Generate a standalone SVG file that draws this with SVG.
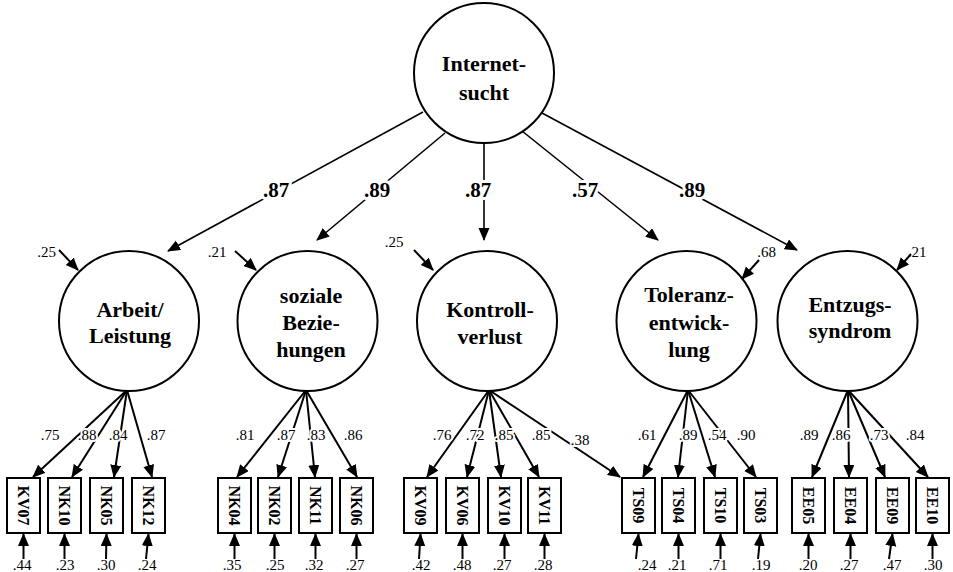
<svg xmlns="http://www.w3.org/2000/svg" width="953" height="572" viewBox="0 0 953 572" font-family="'Liberation Serif', 'Times New Roman', 'DejaVu Serif', serif">
<defs>
<marker id="ah" markerUnits="userSpaceOnUse" markerWidth="14" markerHeight="12" refX="12" refY="5.5" orient="auto"><path d="M0,0 L13,5.5 L0,11 z" fill="#000"/></marker>
<style>
.c{stroke:#000;stroke-width:1.6;fill:none;marker-end:url(#ah)}
.cb{stroke:#000;stroke-width:2;fill:none;marker-end:url(#ah)}
.lat{fill:#fff;stroke:#000;stroke-width:2}
.box{fill:#fff;stroke:#000;stroke-width:2}
text{font-family:'Liberation Serif','Times New Roman','DejaVu Serif',serif;fill:#000}
.lt{font-size:22px;font-weight:bold;text-anchor:middle}
.bt{font-size:16px;font-weight:bold;text-anchor:middle;dominant-baseline:central}
.big{font-size:21px;font-weight:bold;text-anchor:middle;stroke:#fff;stroke-width:6;paint-order:stroke}
.sm{font-size:15px;text-anchor:middle;stroke:#fff;stroke-width:4;paint-order:stroke}
.er{font-size:15px;text-anchor:middle}
</style>
</defs>
<rect width="953" height="572" fill="#fff"/>
<g id="connectors">
<line class="c" x1="423" y1="112" x2="168" y2="251"/>
<line class="c" x1="445" y1="133" x2="317" y2="240"/>
<line class="c" x1="484" y1="143" x2="484" y2="240"/>
<line class="c" x1="522" y1="131" x2="658" y2="240"/>
<line class="c" x1="542" y1="113" x2="797" y2="250"/>
<line class="cb" x1="59" y1="250" x2="78" y2="270"/>
<line class="cb" x1="235" y1="251" x2="256" y2="270"/>
<line class="cb" x1="414" y1="250" x2="433" y2="270"/>
<line class="cb" x1="759" y1="260" x2="742" y2="279"/>
<line class="cb" x1="911" y1="254" x2="897" y2="270"/>
<line class="cb" x1="127" y1="390" x2="33" y2="477"/>
<line class="cb" x1="127" y1="390" x2="72" y2="477"/>
<line class="cb" x1="127" y1="390" x2="114" y2="477"/>
<line class="cb" x1="127" y1="390" x2="152" y2="477"/>
<line class="cb" x1="306" y1="390" x2="237" y2="477"/>
<line class="cb" x1="306" y1="390" x2="278" y2="477"/>
<line class="cb" x1="306" y1="390" x2="315" y2="477"/>
<line class="cb" x1="306" y1="390" x2="357" y2="477"/>
<line class="cb" x1="489" y1="390" x2="427" y2="477"/>
<line class="cb" x1="489" y1="390" x2="467" y2="477"/>
<line class="cb" x1="489" y1="390" x2="501" y2="477"/>
<line class="cb" x1="489" y1="390" x2="539" y2="477"/>
<line class="cb" x1="489" y1="390" x2="620" y2="477"/>
<line class="cb" x1="688" y1="390" x2="643" y2="477"/>
<line class="cb" x1="688" y1="390" x2="678" y2="477"/>
<line class="cb" x1="688" y1="390" x2="715" y2="477"/>
<line class="cb" x1="688" y1="390" x2="756" y2="477"/>
<line class="cb" x1="848" y1="390" x2="812" y2="477"/>
<line class="cb" x1="848" y1="390" x2="849" y2="477"/>
<line class="cb" x1="848" y1="390" x2="885" y2="477"/>
<line class="cb" x1="848" y1="390" x2="928" y2="477"/>
<line class="cb" x1="23.5" y1="559" x2="23.5" y2="534"/>
<line class="cb" x1="64.5" y1="559" x2="64.5" y2="534"/>
<line class="cb" x1="106" y1="559" x2="106.5" y2="534"/>
<line class="cb" x1="146" y1="559" x2="148.5" y2="534"/>
<line class="cb" x1="234.5" y1="559" x2="234.5" y2="534"/>
<line class="cb" x1="274.5" y1="559" x2="274.5" y2="534"/>
<line class="cb" x1="315.5" y1="559" x2="315.5" y2="534"/>
<line class="cb" x1="356.5" y1="559" x2="356.5" y2="534"/>
<line class="cb" x1="419" y1="559" x2="420.5" y2="534"/>
<line class="cb" x1="462.5" y1="559" x2="462.5" y2="534"/>
<line class="cb" x1="504.5" y1="559" x2="504.5" y2="534"/>
<line class="cb" x1="544.5" y1="559" x2="544.5" y2="534"/>
<line class="cb" x1="636" y1="559" x2="638.5" y2="534"/>
<line class="cb" x1="678.5" y1="559" x2="678.5" y2="534"/>
<line class="cb" x1="720.5" y1="559" x2="720.5" y2="534"/>
<line class="cb" x1="758" y1="559" x2="760.5" y2="534"/>
<line class="cb" x1="808.5" y1="559" x2="808.5" y2="534"/>
<line class="cb" x1="850.5" y1="559" x2="850.5" y2="534"/>
<line class="cb" x1="889" y1="559" x2="892.5" y2="534"/>
<line class="cb" x1="932.5" y1="559" x2="932.5" y2="534"/>
<text class="big" x="276" y="197">.87</text>
<text class="big" x="377" y="197">.89</text>
<text class="big" x="478" y="197">.87</text>
<text class="big" x="585" y="197">.57</text>
<text class="big" x="692" y="197">.89</text>
<text class="sm" x="46.5" y="257">.25</text>
<text class="sm" x="217" y="257">.21</text>
<text class="sm" x="394" y="247">.25</text>
<text class="sm" x="766.5" y="257">.68</text>
<text class="sm" x="917" y="257" style="stroke:none">.21</text>
<text class="sm" x="50" y="440">.75</text>
<text class="sm" x="87" y="440">.88</text>
<text class="sm" x="118" y="440">.84</text>
<text class="sm" x="156" y="440">.87</text>
<text class="sm" x="245" y="440">.81</text>
<text class="sm" x="286" y="440">.87</text>
<text class="sm" x="316" y="440">.83</text>
<text class="sm" x="353" y="440">.86</text>
<text class="sm" x="442" y="440">.76</text>
<text class="sm" x="475" y="440">.72</text>
<text class="sm" x="504" y="440">.85</text>
<text class="sm" x="541" y="440">.85</text>
<text class="sm" x="580" y="445">.38</text>
<text class="sm" x="647" y="440">.61</text>
<text class="sm" x="688" y="440">.89</text>
<text class="sm" x="717" y="440">.54</text>
<text class="sm" x="746" y="440">.90</text>
<text class="sm" x="809" y="440">.89</text>
<text class="sm" x="841" y="440">.86</text>
<text class="sm" x="879" y="440">.73</text>
<text class="sm" x="915" y="440">.84</text>
<text class="er" x="22" y="570">.44</text>
<text class="er" x="65" y="570">.23</text>
<text class="er" x="106" y="570">.30</text>
<text class="er" x="147" y="570">.24</text>
<text class="er" x="232" y="570">.35</text>
<text class="er" x="275" y="570">.25</text>
<text class="er" x="314" y="570">.32</text>
<text class="er" x="355" y="570">.27</text>
<text class="er" x="421" y="570">.42</text>
<text class="er" x="462" y="570">.48</text>
<text class="er" x="502" y="570">.27</text>
<text class="er" x="543" y="570">.28</text>
<text class="er" x="647" y="570">.24</text>
<text class="er" x="677" y="570">.21</text>
<text class="er" x="718" y="570">.71</text>
<text class="er" x="761" y="570">.19</text>
<text class="er" x="808" y="570">.20</text>
<text class="er" x="849" y="570">.27</text>
<text class="er" x="892" y="570">.47</text>
<text class="er" x="933" y="570">.30</text>
</g>
<g id="internetsucht"><circle class="lat" cx="484" cy="73" r="70"/><text class="lt" x="484" y="71">Internet-</text><text class="lt" x="484" y="100">sucht</text></g>
<g id="arbeit"><circle class="lat" cx="129" cy="321" r="70"/><text class="lt" x="130" y="317">Arbeit/</text><text class="lt" x="130" y="343">Leistung</text></g>
<g id="soziale"><circle class="lat" cx="307.5" cy="321" r="70"/><text class="lt" x="311" y="303">soziale</text><text class="lt" x="311" y="330">Bezie-</text><text class="lt" x="311" y="357">hungen</text></g>
<g id="kontroll"><circle class="lat" cx="487" cy="321" r="70"/><text class="lt" x="490" y="317">Kontroll-</text><text class="lt" x="490" y="344">verlust</text></g>
<g id="toleranz"><circle class="lat" cx="686.5" cy="321" r="70"/><text class="lt" x="689" y="302">Toleranz-</text><text class="lt" x="689" y="330">entwick-</text><text class="lt" x="689" y="357">lung</text></g>
<g id="entzugs"><circle class="lat" cx="847.5" cy="321" r="70"/><text class="lt" x="850" y="312">Entzugs-</text><text class="lt" x="850" y="338">syndrom</text></g>
<g id="KV07"><rect class="box" x="7" y="478" width="33" height="55"/><text class="bt" transform="translate(23.5,505.5) rotate(90)">KV07</text></g>
<g id="NK10"><rect class="box" x="48" y="478" width="33" height="55"/><text class="bt" transform="translate(64.5,505.5) rotate(90)">NK10</text></g>
<g id="NK05"><rect class="box" x="90" y="478" width="33" height="55"/><text class="bt" transform="translate(106.5,505.5) rotate(90)">NK05</text></g>
<g id="NK12"><rect class="box" x="132" y="478" width="33" height="55"/><text class="bt" transform="translate(148.5,505.5) rotate(90)">NK12</text></g>
<g id="NK04"><rect class="box" x="218" y="478" width="33" height="55"/><text class="bt" transform="translate(234.5,505.5) rotate(90)">NK04</text></g>
<g id="NK02"><rect class="box" x="258" y="478" width="33" height="55"/><text class="bt" transform="translate(274.5,505.5) rotate(90)">NK02</text></g>
<g id="NK11"><rect class="box" x="299" y="478" width="33" height="55"/><text class="bt" transform="translate(315.5,505.5) rotate(90)">NK11</text></g>
<g id="NK06"><rect class="box" x="340" y="478" width="33" height="55"/><text class="bt" transform="translate(356.5,505.5) rotate(90)">NK06</text></g>
<g id="KV09"><rect class="box" x="404" y="478" width="33" height="55"/><text class="bt" transform="translate(420.5,505.5) rotate(90)">KV09</text></g>
<g id="KV06"><rect class="box" x="446" y="478" width="33" height="55"/><text class="bt" transform="translate(462.5,505.5) rotate(90)">KV06</text></g>
<g id="KV10"><rect class="box" x="488" y="478" width="33" height="55"/><text class="bt" transform="translate(504.5,505.5) rotate(90)">KV10</text></g>
<g id="KV11"><rect class="box" x="528" y="478" width="33" height="55"/><text class="bt" transform="translate(544.5,505.5) rotate(90)">KV11</text></g>
<g id="TS09"><rect class="box" x="622" y="478" width="33" height="55"/><text class="bt" transform="translate(638.5,505.5) rotate(90)">TS09</text></g>
<g id="TS04"><rect class="box" x="662" y="478" width="33" height="55"/><text class="bt" transform="translate(678.5,505.5) rotate(90)">TS04</text></g>
<g id="TS10"><rect class="box" x="704" y="478" width="33" height="55"/><text class="bt" transform="translate(720.5,505.5) rotate(90)">TS10</text></g>
<g id="TS03"><rect class="box" x="744" y="478" width="33" height="55"/><text class="bt" transform="translate(760.5,505.5) rotate(90)">TS03</text></g>
<g id="EE05"><rect class="box" x="792" y="478" width="33" height="55"/><text class="bt" transform="translate(808.5,505.5) rotate(90)">EE05</text></g>
<g id="EE04"><rect class="box" x="834" y="478" width="33" height="55"/><text class="bt" transform="translate(850.5,505.5) rotate(90)">EE04</text></g>
<g id="EE09"><rect class="box" x="876" y="478" width="33" height="55"/><text class="bt" transform="translate(892.5,505.5) rotate(90)">EE09</text></g>
<g id="EE10"><rect class="box" x="916" y="478" width="33" height="55"/><text class="bt" transform="translate(932.5,505.5) rotate(90)">EE10</text></g>
</svg>
